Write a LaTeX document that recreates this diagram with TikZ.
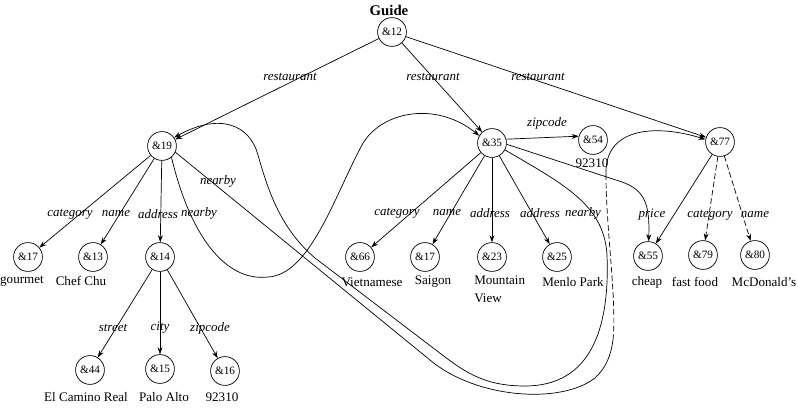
\documentclass[tikz,border=0pt]{standalone}
\usepackage{fontspec}
\setmainfont{Liberation Serif}
\usetikzlibrary{arrows.meta}

\tikzset{
    obj/.style={draw, circle, minimum size=20.5pt, inner sep=0pt, line width=0.5pt, font=\fontsize{8}{9}\selectfont},
    val/.style={inner sep=0pt, font=\fontsize{9.3}{12.8}\selectfont},
    lbl/.style={inner sep=0pt, font=\itshape\fontsize{9.2}{10}\selectfont},
    edge/.style={-{Stealth[length=5pt,width=3.5pt]}, line width=0.5pt},
    faint/.style={dash pattern=on 4pt off 2pt},
}

\begin{document}
\begin{tikzpicture}[x=0.025cm, y=-0.025cm]
    \useasboundingbox (0,0) rectangle (798,408);

    % =========================================================
    % ROOT AND RESTAURANT OBJECTS
    % =========================================================
    \node[font=\bfseries\fontsize{10.5}{12}\selectfont, anchor=north] (guide) at (389,0.5) {Guide};
    \node[obj] (n12) at (392,32) {\&12};
    \node[obj] (n19) at (162,146) {\&19};
    \node[obj] (n35) at (492,143) {\&35};
    \node[obj] (n77) at (720,142) {\&77};

    \draw[edge] (n12) -- (n19);
    \draw[edge] (n12) -- (n35);
    \draw[edge] (n12) -- (n77);
    \node[lbl] (lr1) at (290,77) {restaurant};
    \node[lbl] (lr2) at (433,77) {restaurant};
    \node[lbl] (lr3) at (538,77) {restaurant};

    % =========================================================
    % RESTAURANT &19
    % =========================================================
    \node[obj] (n17) at (28,257) {\&17};
    \node[obj] (n13) at (93,257) {\&13};
    \node[obj] (n14) at (160,257) {\&14};
    \node[val] (v17) at (22,281) {gourmet};
    \node[val] (v13) at (81,281) {Chef Chu};

    \draw[edge] (n19) -- (n17);
    \draw[edge] (n19) -- (n13);
    \draw[edge] (n19) -- (n14);
    \node[lbl] (l19a) at (70,214) {category};
    \node[lbl] (l19b) at (116,214) {name};
    \node[lbl] (l19c) at (158,214) {address};
    \node[lbl] (l19d) at (199,213) {nearby};
    \node[lbl] (l19e) at (218,181) {nearby};

    % address &14
    \node[obj] (n44) at (90,370) {\&44};
    \node[obj] (n15) at (160,369) {\&15};
    \node[obj] (n16) at (225,371) {\&16};
    \node[val] (v44) at (86,397) {El Camino Real};
    \node[val] (v15) at (164,397) {Palo Alto};
    \node[val] (v16) at (222,397) {92310};

    \draw[edge] (n14) -- (n44);
    \draw[edge] (n14) -- (n15);
    \draw[edge] (n14) -- (n16);
    \node[lbl] (l14a) at (113,328) {street};
    \node[lbl] (l14b) at (160,328) {city};
    \node[lbl] (l14c) at (210,328) {zipcode};

    % =========================================================
    % RESTAURANT &35
    % =========================================================
    \node[obj] (n54) at (593,140) {\&54};
    \node[obj] (n66) at (360,257) {\&66};
    \node[obj] (n17b) at (425,257) {\&17};
    \node[obj] (n23) at (492,257) {\&23};
    \node[obj] (n25) at (557,257) {\&25};
    \node[val] (v54) at (592,163) {92310};
    \node[val] (v66) at (372,282) {Vietnamese};
    \node[val] (v17b) at (433,282) {Saigon};
    \node[val, align=left, anchor=north west] (v23) at (474,276) {Mountain\\View};
    \node[val] (v25) at (573,282) {Menlo Park};

    \draw[edge] (n35.15) -- (n54.165);
    \draw[edge] (n35) -- (n66);
    \draw[edge] (n35) -- (n17b);
    \draw[edge] (n35) -- (n23);
    \draw[edge] (n35) -- (n25);
    \node[lbl] (l35z) at (547,123) {zipcode};
    \node[lbl] (l35a) at (397,213) {category};
    \node[lbl] (l35b) at (447,213) {name};
    \node[lbl] (l35c) at (490,213) {address};
    \node[lbl] (l35d) at (540,213) {address};
    \node[lbl] (l35e) at (583,213) {nearby};

    % =========================================================
    % RESTAURANT &77
    % =========================================================
    \node[obj] (n55) at (648,256) {\&55};
    \node[obj] (n79) at (703,255) {\&79};
    \node[obj] (n80) at (755,255) {\&80};
    \node[val] (v55) at (647,282) {cheap};
    \node[val] (v79) at (695,282) {fast food};
    \node[val] (v80) at (764,282) {McDonald's};

    \draw[edge] (n77) -- (n55);
    \draw[edge, faint] (n77) -- (n79);
    \draw[edge, faint] (n77) -- (n80);
    \draw[edge] (n35.-5) -- (622,182) .. controls (645,190) and (650,205) .. (n55);
    \node[lbl] (l77a) at (652,215) {price};
    \node[lbl] (l77b) at (710,215) {category};
    \node[lbl] (l77c) at (755,215) {name};

    % =========================================================
    % NEARBY LINKS
    % =========================================================
    % &19 -> &35
    \draw[edge] (n19.-50) .. controls (190,235) and (225,282) .. (268,277)
                .. controls (310,275) and (335,195) .. (362,145)
                .. controls (380,112) and (435,100) .. (n35.150);
    % &35 -> &19 (inner loop)
    \draw[edge] (n35.-28) .. controls (565,185) and (604,205) .. (607,255)
                .. controls (610,330) and (590,386) .. (525,386)
                .. controls (490,386) and (470,376) .. (445,357) -- (315,258)
                .. controls (280,228) and (268,190) .. (258,155)
                .. controls (250,125) and (220,112) .. (n19.35);
    % &19 -> &77 (outer loop)
    \coordinate (c77a) at (606,175);
    \coordinate (c77b) at (613,340);
    \draw[line width=0.5pt] (n19.-25) -- (430,360) .. controls (475,398) and (560,405) .. (595,378)
                .. controls (606,368) and (611,355) .. (c77b);
    \draw[line width=0.5pt, faint] (c77b) .. controls (617,300) and (606,230) .. (c77a);
    \draw[edge] (c77a) .. controls (604,125) and (660,125) .. (n77.170);
\end{tikzpicture}
\end{document}
